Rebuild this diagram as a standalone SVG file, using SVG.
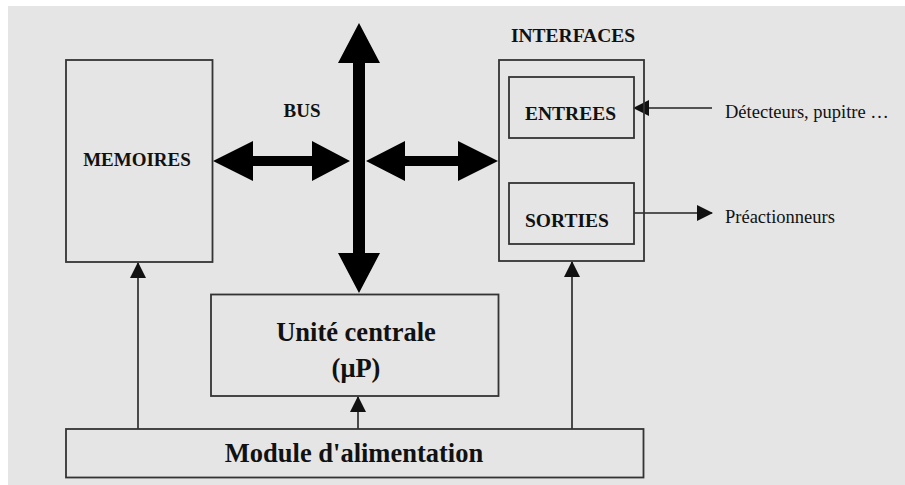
<svg xmlns="http://www.w3.org/2000/svg" width="905" height="485" viewBox="0 0 905 485">
  <defs>
    <style>
      .box { fill: none; stroke: #333; stroke-width: 1.8; }
      .wire { fill: none; stroke: #222; stroke-width: 1.6; }
      .bus { fill: #000; }
      .lbl { font-family: "Liberation Serif", "Times New Roman", serif; font-weight: bold; fill: #111; }
      .note { font-family: "Liberation Serif", "Times New Roman", serif; fill: #111; font-size: 18.5px; }
    </style>
    <marker id="head" markerUnits="userSpaceOnUse" markerWidth="16" markerHeight="16" viewBox="0 0 16 16" refX="15" refY="8" orient="auto">
      <path d="M0,0 L16,8 L0,16 Z" fill="#111"/>
    </marker>
  </defs>

  <!-- page -->
  <rect x="0" y="0" width="905" height="485" fill="#ffffff"/>
  <rect x="8" y="6" width="897" height="479" fill="#e5e5e5"/>

  <!-- connectors -->
  <g id="connectors">
    <!-- bus: vertical double arrow -->
    <polygon class="bus" points="359,23 380,63 365,63 365,253 380,253 359,293 338,253 353,253 353,63 338,63"/>
    <!-- bus to memories -->
    <polygon class="bus" points="213,161 253,141 253,156 312,156 312,141 350,161 312,181 312,166 253,166 253,181"/>
    <!-- bus to interfaces -->
    <polygon class="bus" points="366,161 405,141 405,156 458,156 458,141 498,161 458,181 458,166 405,166 405,181"/>
    <!-- power supply lines -->
    <line class="wire" x1="138" y1="429" x2="138" y2="263" marker-end="url(#head)"/>
    <line class="wire" x1="358" y1="429" x2="358" y2="397" marker-end="url(#head)"/>
    <line class="wire" x1="572" y1="429" x2="572" y2="262" marker-end="url(#head)"/>
    <!-- field signals -->
    <line class="wire" x1="712" y1="108" x2="634" y2="108" marker-end="url(#head)"/>
    <line class="wire" x1="634" y1="213" x2="712" y2="213" marker-end="url(#head)"/>
  </g>

  <g id="bus-label">
    <text class="lbl" x="302" y="117" font-size="19" text-anchor="middle">BUS</text>
  </g>

  <g id="memoires">
    <rect class="box" x="66" y="60" width="146.5" height="202"/>
    <text class="lbl" x="137" y="166" font-size="19" text-anchor="middle">MEMOIRES</text>
  </g>

  <g id="interfaces">
    <text class="lbl" x="573" y="42" font-size="19.5" text-anchor="middle">INTERFACES</text>
    <rect class="box" x="499" y="60" width="145" height="201"/>
  </g>

  <g id="entrees">
    <rect class="box" x="509" y="77" width="125" height="61"/>
    <text class="lbl" x="525" y="119.5" font-size="19.5">ENTREES</text>
  </g>

  <g id="sorties">
    <rect class="box" x="509" y="183" width="125" height="61"/>
    <text class="lbl" x="525" y="227" font-size="19.5">SORTIES</text>
  </g>

  <g id="detecteurs">
    <text class="note" x="725" y="117.5">Détecteurs, pupitre …</text>
  </g>

  <g id="preactionneurs">
    <text class="note" x="725" y="222.5">Préactionneurs</text>
  </g>

  <g id="unite-centrale">
    <rect class="box" x="211" y="294.5" width="287.5" height="101.5"/>
    <text class="lbl" x="356" y="341" font-size="26.5" text-anchor="middle">Unité centrale</text>
    <text class="lbl" x="356" y="377" font-size="26.5" text-anchor="middle">(μP)</text>
  </g>

  <g id="module-alimentation">
    <rect class="box" x="66" y="429" width="577.5" height="48.5"/>
    <text class="lbl" x="354" y="462" font-size="26.5" text-anchor="middle">Module d'alimentation</text>
  </g>
</svg>
